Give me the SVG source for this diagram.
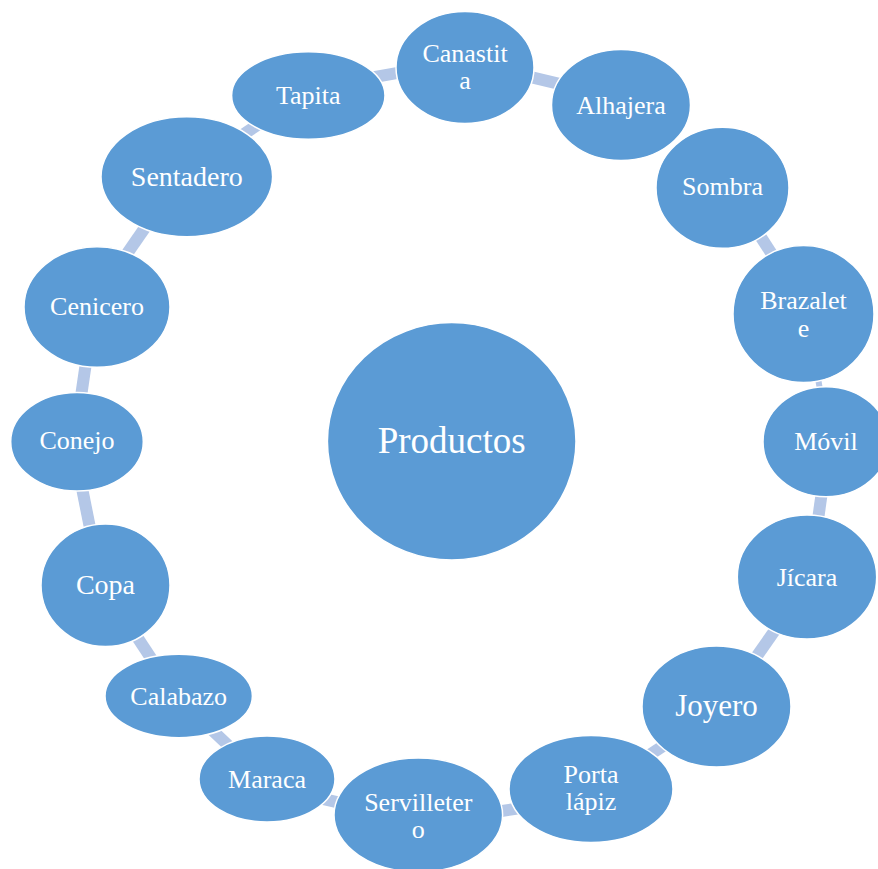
<svg xmlns="http://www.w3.org/2000/svg" width="878" height="869" viewBox="0 0 878 869">
<style>
.n ellipse{fill:#5b9bd5;stroke:#ffffff;stroke-width:1.5}
.n text{font-family:"Liberation Serif","Times New Roman",serif;fill:#ffffff;text-anchor:middle;font-size:26px}
.c line{stroke:#b4c7e7;stroke-width:12;stroke-linecap:butt}
</style>
<rect width="878" height="869" fill="#ffffff"/>
<g id="connectors" class="c">
<line x1="523.6" y1="75.3" x2="562.4" y2="84.7"/>
<line x1="756.3" y1="229.9" x2="775.7" y2="260.1"/>
<line x1="816.9" y1="372.2" x2="821.1" y2="395.8" style="stroke-width:6"/>
<line x1="822.8" y1="485.7" x2="817.2" y2="525.3"/>
<line x1="777.5" y1="626.6" x2="754.5" y2="659.4"/>
<line x1="669.5" y1="741.8" x2="644.5" y2="758.2"/>
<line x1="525.8" y1="807.3" x2="490.2" y2="812.7"/>
<line x1="345.6" y1="804.2" x2="318.4" y2="797.8"/>
<line x1="232.7" y1="749.5" x2="209.3" y2="727.5"/>
<line x1="153.9" y1="662.5" x2="134.1" y2="632.5"/>
<line x1="91.5" y1="535.5" x2="80.5" y2="480.5"/>
<line x1="80.3" y1="401.3" x2="86.7" y2="357.7"/>
<line x1="125.1" y1="256.5" x2="147.9" y2="223.5"/>
<line x1="238.4" y1="137.8" x2="261.6" y2="122.2"/>
<line x1="368.3" y1="78.2" x2="403.7" y2="71.8"/>
</g>
<g id="productos" class="n"><ellipse cx="451.7" cy="441.3" rx="124.3" ry="118.7"/><text x="451.7" y="452.7" style="font-size:37px">Productos</text></g>
<g id="canastita" class="n"><ellipse cx="465" cy="67.5" rx="69" ry="56"/><text x="465" y="62">Canastit</text><text x="465" y="88.5">a</text></g>
<g id="alhajera" class="n"><ellipse cx="621" cy="105" rx="69.5" ry="55.5"/><text x="621" y="114">Alhajera</text></g>
<g id="sombra" class="n"><ellipse cx="722.5" cy="187.8" rx="66.5" ry="60.5"/><text x="722.5" y="195">Sombra</text></g>
<g id="brazalete" class="n"><ellipse cx="803.5" cy="314" rx="70.5" ry="68.5"/><text x="803.5" y="309">Brazalet</text><text x="803.5" y="336.5">e</text></g>
<g id="movil" class="n"><ellipse cx="826" cy="441.7" rx="63" ry="55"/><text x="826" y="450">Móvil</text></g>
<g id="jicara" class="n"><ellipse cx="807" cy="577" rx="69.7" ry="62"/><text x="807" y="586">Jícara</text></g>
<g id="joyero" class="n"><ellipse cx="716.5" cy="706.5" rx="74.5" ry="60.5"/><text x="716.5" y="716" style="font-size:31px">Joyero</text></g>
<g id="portalapiz" class="n"><ellipse cx="591" cy="789" rx="82" ry="53.5"/><text x="591" y="783">Porta</text><text x="591" y="810">lápiz</text></g>
<g id="servilletero" class="n"><ellipse cx="418.3" cy="815" rx="84.3" ry="57"/><text x="418.3" y="810.5">Servilleter</text><text x="418.3" y="837.5">o</text></g>
<g id="maraca" class="n"><ellipse cx="267" cy="779" rx="68" ry="43"/><text x="267" y="787.7">Maraca</text></g>
<g id="calabazo" class="n"><ellipse cx="178.7" cy="696" rx="73.7" ry="41.7"/><text x="178.7" y="705">Calabazo</text></g>
<g id="copa" class="n"><ellipse cx="105.5" cy="585.3" rx="64.5" ry="61.3"/><text x="105.5" y="594" style="font-size:28px">Copa</text></g>
<g id="conejo" class="n"><ellipse cx="77" cy="441.7" rx="66.3" ry="49.3"/><text x="77" y="449.3">Conejo</text></g>
<g id="cenicero" class="n"><ellipse cx="97" cy="307" rx="73" ry="60.3"/><text x="97" y="315">Cenicero</text></g>
<g id="sentadero" class="n"><ellipse cx="186.8" cy="176.7" rx="85.8" ry="60"/><text x="186.8" y="185.7" style="font-size:28px">Sentadero</text></g>
<g id="tapita" class="n"><ellipse cx="308.3" cy="95.5" rx="76.7" ry="43.8"/><text x="308.3" y="104">Tapita</text></g>
</svg>
